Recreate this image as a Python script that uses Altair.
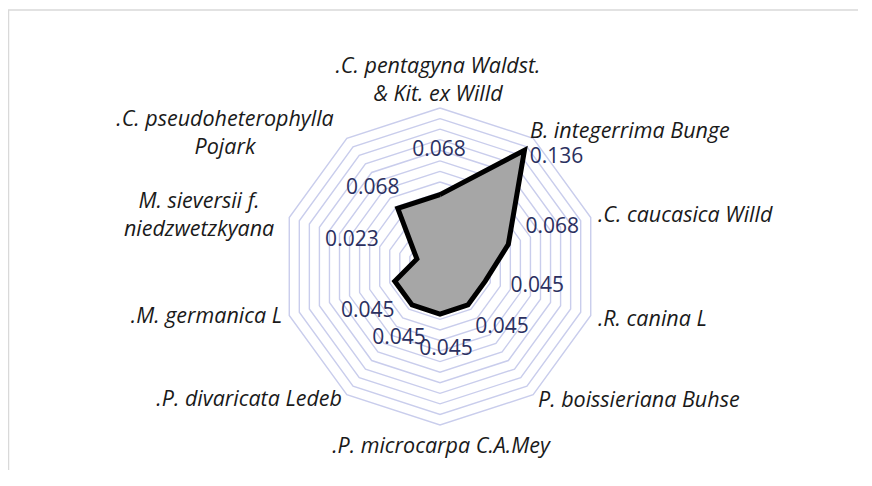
import math
import altair as alt
import pandas as pd

# ---------------- data ----------------
CATEGORIES = [
    ".C. pentagyna Waldst.\n& Kit. ex Willd",
    "B. integerrima Bunge",
    ".C. caucasica Willd",
    ".R. canina L",
    "P. boissieriana Buhse",
    ".P. microcarpa C.A.Mey",
    ".P. divaricata Ledeb",
    ".M. germanica L",
    "M. sieversii f.\nniedzwetzkyana",
    ".C. pseudoheterophylla\nPojark",
]
VALUES = [0.068, 0.136, 0.068, 0.045, 0.045, 0.045, 0.045, 0.045, 0.023, 0.068]
VALUE_LABELS = ["0.068", "0.136", "0.068", "0.045", "0.045", "0.045", "0.045", "0.045", "0.023", "0.068"]
AXIS_MAX = 0.15
GRID_STEP = 0.01

# ---------------- layout ----------------
W, H = 850, 462
CX, CY = 432.0, 258.5          # centre of radar in view pixels
R_PX = 158.5                   # pixel radius of AXIS_MAX
K = R_PX / AXIS_MAX            # px per data unit
N = len(CATEGORIES)

xscale = alt.Scale(domain=[-CX / K, (W - CX) / K], nice=False, zero=False)
yscale = alt.Scale(domain=[-(H - CY) / K, CY / K], nice=False, zero=False)
X = lambda f: alt.X(f, type="quantitative", scale=xscale, axis=None)
Y = lambda f: alt.Y(f, type="quantitative", scale=yscale, axis=None)

# per-label pixel offsets of value labels from their points
LBL_DX = [-1, 32, 44, 52, 34, 6, -13, -27, -65, -25]
LBL_DY = [-45, 7, -17, 5, 22, 35, 33, 30, -19, -20]

# category label placement: (align, baseline, dx, dy)
CAT_STYLE = [
    ("center", "middle", -2, -35),
    ("left", "middle", -7, -1),
    ("left", "middle", 1, 0),
    ("left", "middle", 1, 3),
    ("left", "middle", 1, 1),
    ("center", "middle", 1, 15),
    ("right", "middle", -1, 0),
    ("right", "middle", -1, 0),
    ("center", "middle", -84, -14),
    ("center", "middle", -118, -13),
]
LABEL_R = 165 / K

ang = [2 * math.pi * i / N for i in range(N)]

# grid rings
grid_rows = []
nrings = int(round(AXIS_MAX / GRID_STEP))
for g in range(1, nrings + 1):
    r = g * GRID_STEP
    for j in range(N + 1):
        a = ang[j % N]
        grid_rows.append({"ring": g, "o": j, "x": r * math.sin(a), "y": r * math.cos(a)})
grid_df = pd.DataFrame(grid_rows)

# data polygon
poly_rows = []
for j in range(N + 1):
    i = j % N
    poly_rows.append({"o": j, "x": VALUES[i] * math.sin(ang[i]), "y": VALUES[i] * math.cos(ang[i])})
poly_df = pd.DataFrame(poly_rows)

grid = alt.Chart(grid_df).mark_line(color="#c9cdec", strokeWidth=1.4).encode(
    x=X("x"), y=Y("y"), detail="ring:N", order="o:Q")

poly = alt.Chart(poly_df).mark_line(
    fill="#a6a6a6", stroke="#000000", strokeWidth=5, strokeJoin="miter", strokeMiterLimit=20
).encode(x=X("x"), y=Y("y"), order="o:Q")

layers = [grid, poly]

# value labels
for i in range(N):
    px = VALUES[i] * math.sin(ang[i]) + LBL_DX[i] / K
    py = VALUES[i] * math.cos(ang[i]) - LBL_DY[i] / K
    d = pd.DataFrame({"x": [px], "y": [py], "t": [VALUE_LABELS[i]]})
    layers.append(alt.Chart(d).mark_text(
        font="Open Sans", fontSize=21, color="#2b3060", align="center", baseline="middle"
    ).encode(x=X("x"), y=Y("y"), text="t:N"))

# category labels
for i in range(N):
    al, bl, dx, dy = CAT_STYLE[i]
    d = pd.DataFrame({"x": [LABEL_R * math.sin(ang[i])], "y": [LABEL_R * math.cos(ang[i])],
                      "t": [CATEGORIES[i]]})
    layers.append(alt.Chart(d).mark_text(
        font="Open Sans", fontSize=21.5, fontStyle="italic", color="#1a1a1a",
        align=al, baseline=bl, dx=dx, dy=dy, lineBreak="\n", lineHeight=28
    ).encode(x=X("x"), y=Y("y"), text="t:N"))

# chart frame (top and left border)
frame_top = alt.Chart(pd.DataFrame({"a": [0]})).mark_rule(color="#d9d9d9", strokeWidth=1.5).encode(
    x=alt.value(0), x2=alt.value(W), y=alt.value(2))
frame_left = alt.Chart(pd.DataFrame({"a": [0]})).mark_rule(color="#d9d9d9", strokeWidth=1.5).encode(
    x=alt.value(0.5), y=alt.value(2), y2=alt.value(H))
layers += [frame_top, frame_left]

chart = alt.layer(*layers).properties(
    width=W, height=H, padding=0, autosize="none", background="white"
).configure_view(stroke=None)

chart.save("out.html", embed_options={"renderer": "svg", "actions": False})
